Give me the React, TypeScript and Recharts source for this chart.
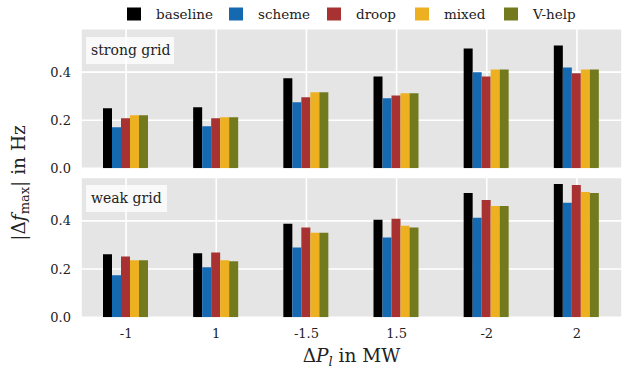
import React from 'react';
import { BarChart, Bar, XAxis, YAxis, CartesianGrid } from 'recharts';

// ---------- data ----------
const categories = ['-1', '1', '-1.5', '1.5', '-2', '2'];
const seriesNames = ['baseline', 'scheme', 'droop', 'mixed', 'V-help'];

const strongBaseline = [0.250, 0.254, 0.374, 0.382, 0.498, 0.511];
const strongScheme = [0.171, 0.175, 0.275, 0.291, 0.399, 0.419];
const strongDroop = [0.208, 0.208, 0.295, 0.303, 0.382, 0.395];
const strongMixed = [0.221, 0.212, 0.316, 0.312, 0.411, 0.411];
const strongVhelp = [0.221, 0.212, 0.316, 0.312, 0.411, 0.411];

const weakBaseline = [0.261, 0.265, 0.388, 0.405, 0.516, 0.553];
const weakScheme = [0.174, 0.207, 0.289, 0.331, 0.413, 0.475];
const weakDroop = [0.252, 0.269, 0.372, 0.409, 0.487, 0.549];
const weakMixed = [0.236, 0.236, 0.351, 0.380, 0.462, 0.520];
const weakVhelp = [0.236, 0.232, 0.351, 0.372, 0.462, 0.516];

const yTicks = [0, 0.2, 0.4];
const yDomainMax = 0.58;
const panelTitles = ['strong grid', 'weak grid'];

// ---------- styles ----------
const COLORS = ['#000000', '#1469B0', '#A83232', '#EDB021', '#737A1E'];
const FONT = '"DejaVu Serif", serif';
const PANEL_BG = '#E5E5E5';
const TEXT = '#222222';

const buildRows = (cols: number[][]) =>
  categories.map((c, i) => {
    const row: Record<string, string | number> = { cat: c };
    seriesNames.forEach((s, k) => {
      row[s] = cols[k][i];
    });
    return row;
  });

const strongRows = buildRows([strongBaseline, strongScheme, strongDroop, strongMixed, strongVhelp]);
const weakRows = buildRows([weakBaseline, weakScheme, weakDroop, weakMixed, weakVhelp]);

const legendX = [127, 229, 327, 415, 504];

function Panel(props: {
  rows: Record<string, string | number>[];
  height: number;
  margin: { top: number; right: number; bottom: number; left: number };
  showX: boolean;
}) {
  const { rows, height, margin, showX } = props;
  return (
    <BarChart
      width={626}
      height={height}
      data={rows}
      margin={margin}
      barCategoryGap={22}
      barGap={0}
    >
      <CartesianGrid fill={PANEL_BG} fillOpacity={1} stroke="#FFFFFF" strokeWidth={1.6} />
      <XAxis
        dataKey="cat"
        type="category"
        height={showX ? 30 : 0}
        tick={
          showX
            ? { fill: TEXT, fontSize: 13, fontFamily: FONT }
            : { fill: 'transparent', fontSize: 1 }
        }
        axisLine={false}
        tickLine={false}
        tickSize={6}
        tickMargin={6}
        interval={0}
      />
      <YAxis
        type="number"
        domain={[0, yDomainMax]}
        ticks={yTicks}
        tickFormatter={(v: number) => v.toFixed(1)}
        width={60}
        axisLine={false}
        tickLine={false}
        tickSize={6}
        tickMargin={4}
        tick={{ fill: TEXT, fontSize: 13, fontFamily: FONT }}
        allowDataOverflow
      />
      {seriesNames.map((s, k) => (
        <Bar key={s} dataKey={s} fill={COLORS[k]} isAnimationActive={false} />
      ))}
    </BarChart>
  );
}

const labelBox = (top: number, width: number): React.CSSProperties => ({
  position: 'absolute',
  left: 86,
  top,
  width,
  height: 27,
  background: 'rgba(255,255,255,0.78)',
  fontFamily: FONT,
  fontSize: 14,
  color: TEXT,
  lineHeight: '27px',
  paddingLeft: 5,
  boxSizing: 'border-box',
  whiteSpace: 'nowrap',
});

export default function App() {
  return (
    <div
      style={{
        position: 'absolute',
        left: 0,
        top: 0,
        width: 626,
        height: 379,
        background: '#FFFFFF',
        overflow: 'hidden',
      }}
    >
      <div style={{ position: 'absolute', left: 0, top: 0 }}>
        <Panel rows={strongRows} height={180} margin={{ top: 28.8, right: 4, bottom: 11.7, left: 21 }} showX={false} />
      </div>
      <div style={{ position: 'absolute', left: 0, top: 170 }}>
        <Panel rows={weakRows} height={209} margin={{ top: 7.5, right: 4, bottom: 31.8, left: 21 }} showX={true} />
      </div>

      <div style={labelBox(36.7, 88)}>{panelTitles[0]}</div>
      <div style={labelBox(185, 81)}>{panelTitles[1]}</div>

      <svg
        width={626}
        height={379}
        style={{ position: 'absolute', left: 0, top: 0, pointerEvents: 'none' }}
      >
        {seriesNames.map((s, k) => (
          <g key={s}>
            <rect x={legendX[k]} y={7.5} width={14} height={13} fill={COLORS[k]} />
            <text x={legendX[k] + 29} y={19} fontFamily={FONT} fontSize={13.5} fill={TEXT}>
              {s}
            </text>
          </g>
        ))}

        <text
          transform="translate(25,183) rotate(-90)"
          textAnchor="middle"
          fontFamily={FONT}
          fontSize={18.5}
          fill={TEXT}
        >
          <tspan>|Δ</tspan>
          <tspan fontStyle="italic">f</tspan>
          <tspan fontSize={13} dy={4}>max</tspan>
          <tspan dy={-4}>| in Hz</tspan>
        </text>

        <text x={351.5} y={362} textAnchor="middle" fontFamily={FONT} fontSize={18.5} fill={TEXT}>
          <tspan>Δ</tspan>
          <tspan fontStyle="italic">P</tspan>
          <tspan fontSize={13} fontStyle="italic" dy={4}>l</tspan>
          <tspan dy={-4}> in MW</tspan>
        </text>
      </svg>
    </div>
  );
}
